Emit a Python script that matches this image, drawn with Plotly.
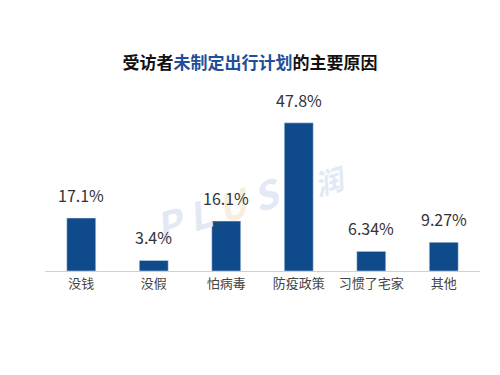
import plotly.graph_objects as go

categories = ["没钱", "没假", "怕病毒", "防疫政策", "习惯了宅家", "其他"]
values = [17.1, 3.4, 16.1, 47.8, 6.34, 9.27]
value_labels = ["17.1%", "3.4%", "16.1%", "47.8%", "6.34%", "9.27%"]

bar_color = "#0f4a8a"
title_blue = "#1f4e9a"
font_family = "Noto Sans CJK SC, Noto Sans, sans-serif"

fig = go.Figure()
fig.add_trace(go.Bar(
    x=categories, y=values, marker_color=bar_color, width=0.4,
    hoverinfo="skip",
))

# faint watermark (drawn first so value labels sit on top)
fig.add_annotation(xref="paper", yref="paper", x=0.398, y=0.344,
                   xanchor="center", yanchor="middle",
                   text="<b><i>P L <span style='color:#f8eedd'>U</span> S</i></b>",
                   showarrow=False, textangle=-17,
                   font=dict(size=38, color="#e2e9f4", family=font_family))
fig.add_annotation(xref="paper", yref="paper", x=0.655, y=0.489,
                   xanchor="center", yanchor="middle",
                   text="<b><i>润</i></b>",
                   showarrow=False, textangle=-17,
                   font=dict(size=28, color="#e2e9f4", family=font_family))

for c, v, t in zip(categories, values, value_labels):
    fig.add_annotation(x=c, y=v, text=t, showarrow=False, yanchor="bottom",
                       yshift=9, font=dict(size=16, color="#333333", family=font_family))

fig.update_layout(
    width=500, height=375,
    margin=dict(l=37, r=28, t=77, b=112),
    paper_bgcolor="white", plot_bgcolor="white",
    title=dict(
        text=f"<b>受访者<span style='color:{title_blue}'>未制定出行计划</span>的主要原因</b>",
        x=(250 - 8) / 500, xanchor="center", y=1 - 55/375, yanchor="middle",
        font=dict(size=17, color="#111111", family=font_family),
    ),
    showlegend=False,
    bargap=0.6,
)
fig.update_xaxes(showline=True, linecolor="#d0d0d0", linewidth=1, ticks="",
                 tickfont=dict(size=13, color="#444444", family=font_family),
                 showgrid=False)
fig.update_yaxes(range=[0, 60], visible=False, showgrid=False, zeroline=False)

fig.write_html("out.html")
